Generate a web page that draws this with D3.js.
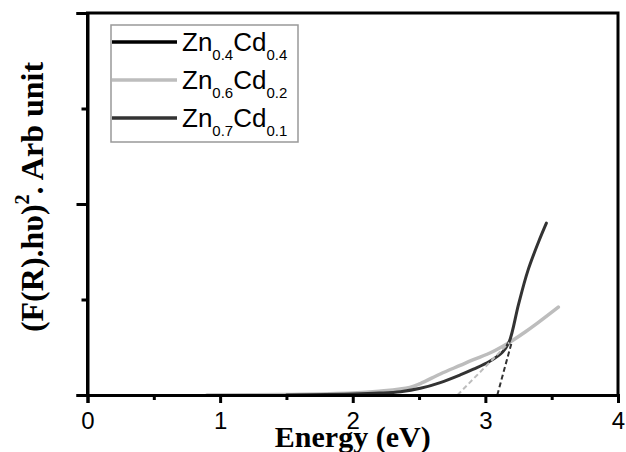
<!DOCTYPE html>
<html>
<head>
<meta charset="utf-8">
<script src="https://cdn.jsdelivr.net/npm/d3@7"></script>
<style>
  body { margin: 0; background: #fff; }
  svg { display: block; }
</style>
</head>
<body>
<script>
// energy (eV) and (F(R).hv)^2 values
let energyA = [1.2, 1.6, 2.0, 2.3];
let valuesA = [0, 0.003, 0.01, 0.025];               // Zn0.4Cd0.4

let energyB = [0.9, 1.5, 2.0, 2.2, 2.43, 2.51, 2.66, 2.81, 2.91, 3.05, 3.18, 3.3, 3.39, 3.55];
let valuesB = [0, 0.005, 0.02, 0.04, 0.08, 0.12, 0.22, 0.31, 0.37, 0.45, 0.55, 0.66, 0.75, 0.92];   // Zn0.6Cd0.2

let energyC = [1.5, 1.8, 2.0, 2.2, 2.36, 2.51, 2.66, 2.81, 2.91, 3.03, 3.13, 3.18, 3.25, 3.32, 3.40, 3.46];
let valuesC = [0, 0.005, 0.01, 0.02, 0.035, 0.07, 0.13, 0.21, 0.27, 0.35, 0.45, 0.56, 0.95, 1.3, 1.6, 1.80];   // Zn0.7Cd0.1

// tangent (Tauc) extrapolations
let tangentB = [[2.79, 0], [3.18, 0.55]];
let tangentC = [[3.09, 0], [3.2, 0.56]];

let xTicks = [0, 1, 2, 3, 4];
let xMinor = [0.5, 1.5, 2.5, 3.5];
let yMajor = [0, 2, 4];
let yMinor = [1, 3];

let seriesNames = [['Zn', '0.4', 'Cd', '0.4'], ['Zn', '0.6', 'Cd', '0.2'], ['Zn', '0.7', 'Cd', '0.1']];
let seriesColors = ['#000', '#bdbdbd', '#333'];
let seriesWidths = [3, 3.5, 3];

let svgWidth = 626, svgHeight = 452;
let svg = d3.select('body').append('svg')
svg.attr('width', svgWidth).attr('height', svgHeight)

let xScale = d3.scaleLinear().domain([0, 4]).range([87.5, 618])
let yScale = d3.scaleLinear().domain([0, 4]).range([395, 13])

let line = d3.line()
    .x((d)=>{return xScale(d[0])})
    .y((d)=>{return yScale(d[1])})
    .curve(d3.curveCatmullRom.alpha(0.5))

let data = [d3.zip(energyA, valuesA), d3.zip(energyB, valuesB), d3.zip(energyC, valuesC)]

// curves
svg.selectAll('path.curve')
    .data(data)
    .enter()
    .append('path')
    .attr('class', 'curve')
    .attr('d', line)
    .attr('fill', 'none')
    .attr('stroke', (d, i)=>{return seriesColors[i]})
    .attr('stroke-width', (d, i)=>{return seriesWidths[i]})
    .attr('stroke-linejoin', 'round')
    .attr('stroke-linecap', 'round')

svg.selectAll('path.tangent')
    .data([tangentB, tangentC])
    .enter()
    .append('path')
    .attr('class', 'tangent')
    .attr('d', d3.line().x((d)=>{return xScale(d[0])}).y((d)=>{return yScale(d[1])}))
    .attr('fill', 'none')
    .attr('stroke', (d, i)=>{return i == 0 ? '#bdbdbd' : '#333'})
    .attr('stroke-width', 2)
    .attr('stroke-dasharray', '5,3')

// frame
svg.append('path')
    .attr('d', 'M' + xScale(0) + ',' + yScale(0) + 'V' + yScale(4) + 'H' + xScale(4) + 'V' + yScale(0))
    .attr('fill', 'none').attr('stroke', '#000').attr('stroke-width', 3)

// axes
let xAxis = d3.axisBottom(xScale).tickValues(xTicks).tickSize(8).tickFormat(d3.format('d'))
let gx = svg.append('g').attr('transform', 'translate(0,' + yScale(0) + ')').call(xAxis)
gx.select('.domain').attr('stroke-width', 3)
gx.selectAll('.tick line').attr('stroke-width', 3)
gx.selectAll('.tick text').attr('font-family', 'Arial, "Liberation Sans", sans-serif')
    .attr('font-size', 24).attr('fill', '#000').attr('dy', 0).attr('y', 34)

let gxm = svg.append('g').attr('transform', 'translate(0,' + yScale(0) + ')')
    .call(d3.axisBottom(xScale).tickValues(xMinor).tickSize(5).tickFormat(''))
gxm.select('.domain').remove()
gxm.selectAll('.tick line').attr('stroke-width', 3)

let gy = svg.append('g').attr('transform', 'translate(' + xScale(0) + ',0)')
    .call(d3.axisLeft(yScale).tickValues(yMajor).tickSize(11).tickFormat(''))
gy.select('.domain').attr('stroke-width', 3)
gy.selectAll('.tick line').attr('stroke-width', 3)

let gym = svg.append('g').attr('transform', 'translate(' + xScale(0) + ',0)')
    .call(d3.axisLeft(yScale).tickValues(yMinor).tickSize(6).tickFormat(''))
gym.select('.domain').remove()
gym.selectAll('.tick line').attr('stroke-width', 3)

// axis titles
svg.append('text')
    .attr('x', xScale(2)).attr('y', 447)
    .attr('text-anchor', 'middle')
    .attr('font-family', '"Liberation Serif", "Times New Roman", serif')
    .attr('font-weight', 'bold').attr('font-size', 30)
    .text('Energy (eV)')

let yTitle = svg.append('text')
    .attr('transform', 'translate(43,197) rotate(-90)')
    .attr('text-anchor', 'middle')
    .attr('font-family', '"Liberation Serif", "Times New Roman", serif')
    .attr('font-weight', 'bold').attr('font-size', 32)
yTitle.append('tspan').text('(F(R).h\u03C5)')
yTitle.append('tspan').attr('font-size', 20).attr('dy', -14).text('2')
yTitle.append('tspan').attr('dy', 14).text('. Arb unit')

// legend
let legend = svg.append('g')
legend.append('rect')
    .attr('x', 111).attr('y', 25).attr('width', 187).attr('height', 117)
    .attr('fill', '#fff').attr('stroke', '#999').attr('stroke-width', 1.5)

let items = legend.selectAll('g.item')
    .data(seriesNames)
    .enter()
    .append('g')
    .attr('class', 'item')
    .attr('transform', (d, i)=>{return 'translate(0,' + (42 + i * 38) + ')'})

items.append('line')
    .attr('x1', 112).attr('x2', 177).attr('y1', 0).attr('y2', 0)
    .attr('stroke', (d, i)=>{return seriesColors[i]})
    .attr('stroke-width', 3.5)

let label = items.append('text')
    .attr('x', 182).attr('y', 9)
    .attr('font-family', 'Arial, "Liberation Sans", sans-serif')
    .attr('font-size', 26)
label.append('tspan').text((d)=>{return d[0]})
label.append('tspan').attr('font-size', 15).attr('dy', 9).text((d)=>{return d[1]})
label.append('tspan').attr('dy', -9).text((d)=>{return d[2]})
label.append('tspan').attr('font-size', 15).attr('dy', 9).text((d)=>{return d[3]})
</script>
</body>
</html>
